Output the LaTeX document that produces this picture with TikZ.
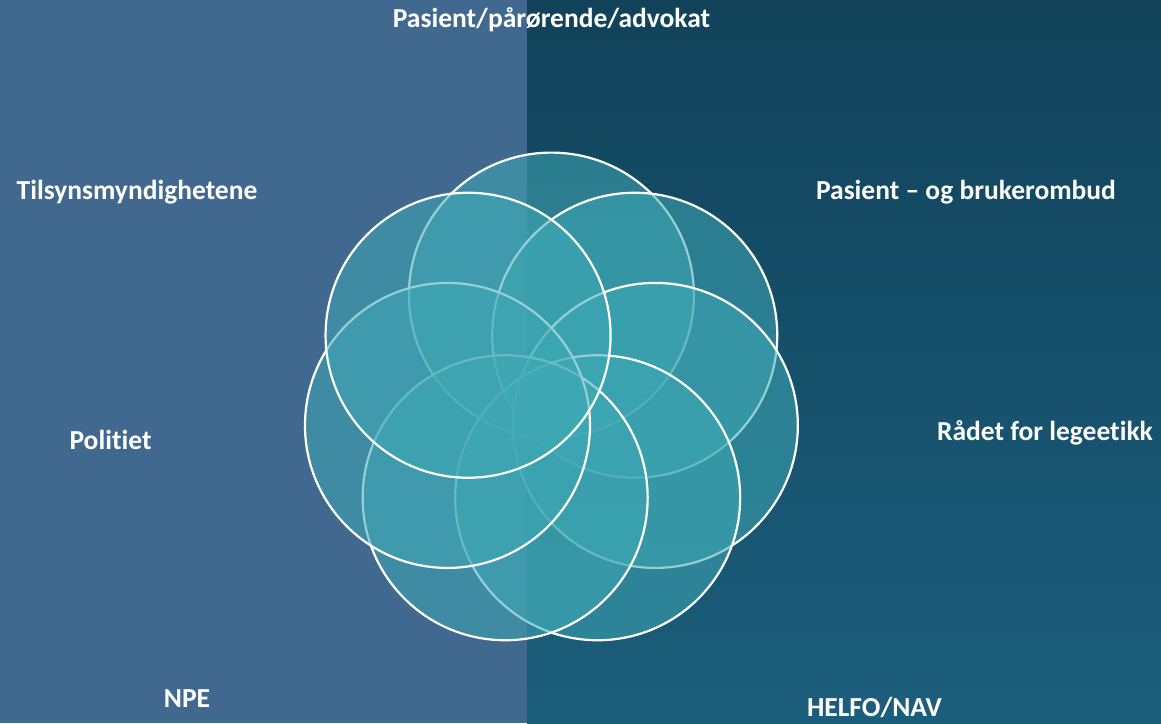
\documentclass[tikz,border=0pt]{standalone}
\usepackage{fontspec}
\usetikzlibrary{calc}
\setmainfont{Carlito}[Ligatures=NoCommon]
\definecolor{leftbg}{RGB}{65,104,143}
\definecolor{righttop}{RGB}{17,66,90}
\definecolor{rightbot}{RGB}{27,94,124}
\definecolor{petalfill}{RGB}{62,168,180}
\tikzset{
  petal/.style={fill=petalfill, fill opacity=0.55, draw=white, draw opacity=1, line width=2.2pt},
  lbl/.style={text=white, font=\fontsize{27.5}{32}\selectfont\bfseries, anchor=base, inner sep=0pt}
}
\begin{document}
\begin{tikzpicture}[x=1pt,y=-1pt]
\useasboundingbox (0,0) rectangle (1161,723);
\fill[leftbg] (0,0) rectangle (527,723);
\shade[top color=righttop, bottom color=rightbot] (527,0) rectangle (1161,723);
\coordinate (ctr) at (551.4,401.7);
\foreach \k in {0,6,5,4,3,2,1} {
  \filldraw[petal] ($(ctr)+({106.6*cos(90+\k*51.428571)},{-106.6*sin(90+\k*51.428571)})$) circle [radius=142.5];
}
\node[lbl] (t1) at (551.5,27) {Pasient/pårørende/advokat};
\node[lbl] (t2) at (137,199) {Tilsynsmyndighetene};
\node[lbl] (t3) at (966,199) {Pasient – og brukerombud};
\node[lbl] (t4) at (1045,440) {Rådet for legeetikk};
\node[lbl] (t5) at (110.5,449) {Politiet};
\node[lbl] (t6) at (187,707) {NPE};
\node[lbl] (t7) at (874.5,716) {HELFO/NAV};
\end{tikzpicture}
\end{document}
